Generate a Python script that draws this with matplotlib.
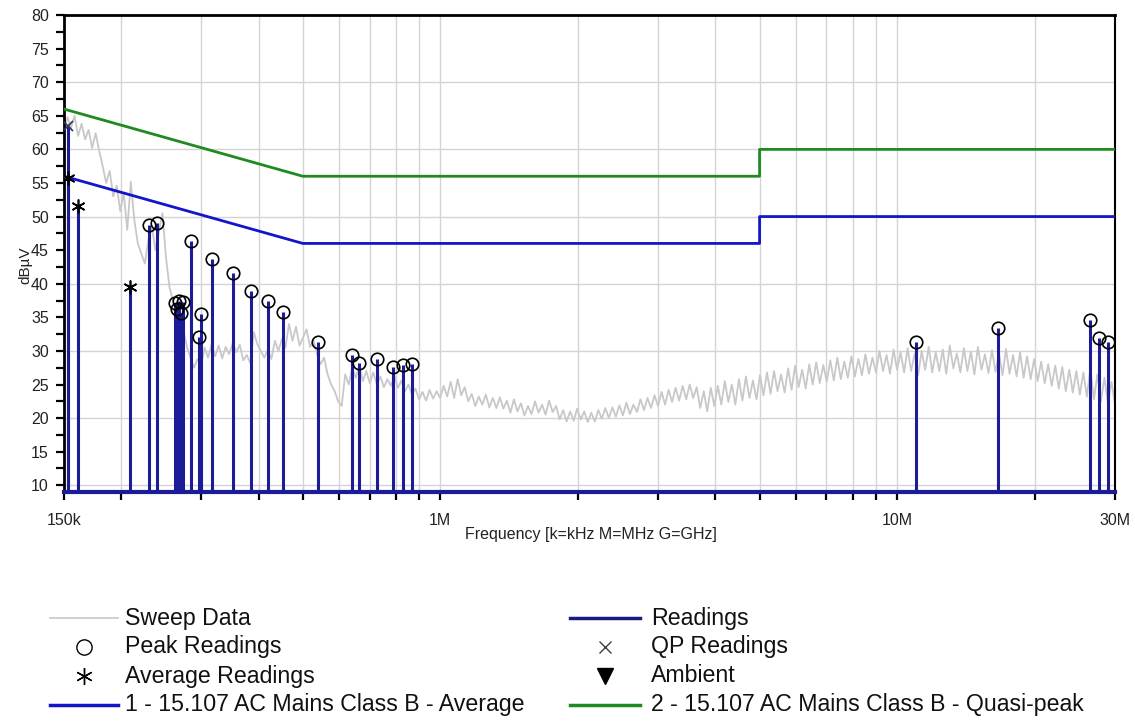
import numpy as np
import matplotlib.pyplot as plt
from matplotlib.lines import Line2D
from matplotlib.ticker import FixedLocator, NullFormatter

plt.rcParams['font.family'] = ['Liberation Sans', 'DejaVu Sans']

# sweep trace (dBuV) left to right, 150 kHz .. 30 MHz
sweep_dbuv = [
    62.5, 64.8, 63.2, 65.0, 62.0, 63.8, 61.5, 62.9, 60.2, 62.4, 59.8,
    57.5, 55.0, 56.8, 53.0, 54.6, 50.8, 53.5, 48.0, 55.2, 49.5, 46.0, 44.5, 43.0,
    46.5, 48.5, 45.0, 47.8, 50.5, 44.0, 39.5, 37.5, 36.0, 34.5, 33.0, 30.5, 29.0, 27.5, 28.8, 27.8,
    30.5, 29.0, 31.0, 29.2, 30.8, 28.9, 30.6, 29.5, 31.2, 29.8, 30.9, 28.6, 29.4, 28.2, 32.8, 31.0, 30.0, 29.0, 30.2, 28.8,
    31.5, 30.0, 31.8, 30.5, 34.0, 31.5, 33.6, 30.8, 32.0, 33.2, 30.6, 31.5, 29.5, 28.0, 29.0, 26.5, 25.0, 24.0, 22.5, 21.8,
    26.5, 25.0, 27.5, 26.0, 27.8, 25.5, 27.0, 25.2, 26.8, 25.0, 26.2, 24.6, 25.8, 24.8, 26.3, 24.5, 25.6, 24.0, 25.0, 23.5,
    24.4, 22.8, 23.9, 22.6, 24.2, 22.9, 24.0, 23.0, 24.8, 23.2, 25.4, 23.0, 25.8, 23.4, 24.6, 22.5, 23.6, 21.8, 23.2, 22.0,
    23.5, 21.6, 23.0, 21.5, 23.1, 21.4, 22.6, 20.8, 22.8, 21.0, 22.2, 20.4, 21.8, 20.6, 22.5, 20.8, 22.0, 20.5, 22.6, 20.9,
    21.8, 19.8, 21.2, 19.5, 21.0, 19.6, 21.4, 19.8, 21.0, 19.4, 20.8, 19.5, 21.2, 19.9, 21.5, 20.0, 21.6, 20.2, 21.9, 20.4,
    22.3, 20.6, 22.0, 20.9, 22.8, 21.2, 23.0, 21.5, 23.4, 21.8, 23.9, 22.0, 24.2, 22.4, 24.5, 22.6, 24.8, 22.8, 25.0, 23.0,
    24.6, 21.5, 24.0, 21.0, 24.5, 21.8, 24.8, 22.0, 25.5, 22.4, 25.0, 22.0, 25.8, 22.6, 26.2, 23.0, 25.6, 22.8, 26.4, 23.4,
    26.8, 23.6, 27.0, 24.0, 26.5, 23.8, 27.4, 24.2, 27.8, 24.6, 27.2, 24.4, 28.0, 25.0, 28.3, 25.2, 27.9, 25.4, 28.6, 25.6,
    29.0, 25.8, 28.4, 26.0, 29.2, 26.2, 28.8, 26.4, 29.5, 26.6, 29.0, 26.8, 30.0, 27.0, 29.4, 26.6, 30.2, 27.2, 29.8, 26.8,
    30.4, 27.0, 29.6, 26.4, 30.0, 27.2, 30.6, 26.8, 29.8, 27.0, 30.2, 26.6, 30.8, 27.4, 29.6, 26.8, 30.4, 27.0, 29.9, 26.5,
    30.6, 27.2, 29.5, 26.7, 30.1, 26.9, 29.7, 26.4, 30.3, 26.6, 29.4, 26.2, 29.8, 26.0, 29.2, 25.8, 28.8, 25.5, 28.4, 25.2,
    28.0, 24.8, 27.8, 24.4, 27.6, 24.0, 27.2, 23.8, 27.0, 23.5, 26.8, 23.2, 27.4, 22.8, 26.5, 22.5, 26.0, 22.2, 25.4, 22.0,
]
sweep_freq = np.geomspace(150e3, 30e6, len(sweep_dbuv))

# limit lines
limit_freq = [150e3, 500e3, 5e6, 5e6, 30e6]
avg_limit_dbuv = [56, 46, 46, 50, 50]
qp_limit_dbuv = [66, 56, 56, 60, 60]

# readings
peak_freq_khz = [230, 240, 262.5, 265.2, 267.9, 270.6, 273.3, 284, 296, 298.5, 316, 352, 386, 419, 453,
                 540, 640, 663, 725, 788, 828, 865, 11000, 16600, 26400, 27700, 28900]
peak_dbuv = [48.7, 49.0, 37.1, 36.2, 37.4, 35.6, 37.3, 46.4, 32.0, 35.5, 43.7, 41.6, 38.9, 37.4, 35.8,
             31.4, 29.4, 28.2, 28.8, 27.6, 27.9, 28.1, 31.3, 33.4, 34.6, 31.9, 31.3]
qp_freq_khz = [153]
qp_dbuv = [63.5]
avg_freq_khz = [153, 160.7, 209]
avg_dbuv = [55.7, 51.6, 39.5]

y_bottom = 9
navy = '#1c1c98'
txt = '#222222'

fig = plt.figure(figsize=(11.35, 7.21), dpi=100)
ax = fig.add_axes([64 / 1135, 1 - 492 / 721, 1051 / 1135, 477 / 721])

ax.set_xscale('log')
ax.set_xlim(150e3, 30e6)
ax.set_ylim(y_bottom, 80)

ax.plot(sweep_freq, sweep_dbuv, color='#c8c8c8', lw=1.3, zorder=2)
ax.plot(limit_freq, qp_limit_dbuv, color='#1f8a1f', lw=2, zorder=3)
ax.plot(limit_freq, avg_limit_dbuv, color='#1414c8', lw=2, zorder=3)

peak_f = np.array(peak_freq_khz) * 1e3
qp_f = np.array(qp_freq_khz) * 1e3
avg_f = np.array(avg_freq_khz) * 1e3
ax.vlines(peak_f, y_bottom, peak_dbuv, color=navy, lw=2.2, zorder=4)
ax.vlines(qp_f, y_bottom, qp_dbuv, color=navy, lw=2.2, zorder=4)
ax.vlines(avg_f, y_bottom, avg_dbuv, color=navy, lw=2.2, zorder=4)
ax.plot(peak_f, peak_dbuv, 'o', ms=9, mfc='none', mec='black', mew=1.2, zorder=5)
ax.plot(qp_f, qp_dbuv, 'x', ms=7, color='#303060', mew=1.2, zorder=5)
ax.plot(avg_f, avg_dbuv, marker=(6, 2, 0), ls='none', ms=10, color='black', mew=1.2, zorder=5)

# axes styling
major_x = [150e3, 1e6, 10e6, 30e6]
minor_x = [2e5, 3e5, 4e5, 5e5, 6e5, 7e5, 8e5, 9e5,
           2e6, 3e6, 4e6, 5e6, 6e6, 7e6, 8e6, 9e6, 2e7]
ax.xaxis.set_major_locator(FixedLocator(major_x))
ax.xaxis.set_minor_locator(FixedLocator(minor_x))
ax.set_xticklabels(['150k', '1M', '10M', '30M'])
ax.xaxis.set_minor_formatter(NullFormatter())
for f in minor_x + [1e6, 10e6]:
    ax.axvline(f, color='#d4d4d4', lw=1, zorder=1)
for y in range(10, 80, 10):
    ax.axhline(y, color='#d4d4d4', lw=1, zorder=1)

ax.set_yticks(np.arange(10, 81, 5))
ax.set_yticks(np.arange(12.5, 80, 5), minor=True)
ax.tick_params(axis='both', which='both', direction='out', length=6, width=1.6, color='black',
               labelsize=11.5, labelcolor=txt)
ax.tick_params(axis='x', pad=9)
ax.tick_params(axis='y', pad=5)

ax.spines['top'].set_linewidth(2)
ax.spines['left'].set_linewidth(2)
ax.spines['right'].set_linewidth(1.5)
ax.spines['bottom'].set_color(navy)
ax.spines['bottom'].set_linewidth(3)

fig.text(25 / 1135, 1 - 265 / 721, 'dBµV', rotation=90, ha='center', va='center', fontsize=11, color=txt)
fig.text(591 / 1135, 1 - 535 / 721, 'Frequency [k=kHz M=MHz G=GHz]', ha='center', va='center',
         fontsize=11.5, color=txt)

# legend drawn by hand below the plot
rows = [1 - 618 / 721, 1 - 647 / 721, 1 - 676 / 721, 1 - 705 / 721]
left_h = (50 / 1135, 118 / 1135, 125 / 1135)
right_h = (570 / 1135, 640 / 1135, 651 / 1135)
entries = [
    (left_h, rows[0], 'Sweep Data', dict(color='#c8c8c8', lw=1.2), None),
    (left_h, rows[1], 'Peak Readings', None, dict(marker='o', ms=11, mfc='none', mec='black', mew=1)),
    (left_h, rows[2], 'Average Readings', None, dict(marker=(6, 2, 0), ms=12, color='black', mew=1)),
    (left_h, rows[3], '1 - 15.107 AC Mains Class B - Average', dict(color='#1414c8', lw=2.5), None),
    (right_h, rows[0], 'Readings', dict(color='#1a1a80', lw=2.5), None),
    (right_h, rows[1], 'QP Readings', None, dict(marker='x', ms=9, color='#404040', mew=1)),
    (right_h, rows[2], 'Ambient', None, dict(marker='v', ms=11, color='black')),
    (right_h, rows[3], '2 - 15.107 AC Mains Class B - Quasi-peak', dict(color='#1f8a1f', lw=2.5), None),
]
for (x0, x1, xt), y, label, line_kw, marker_kw in entries:
    if line_kw:
        fig.add_artist(Line2D([x0, x1], [y, y], transform=fig.transFigure, **line_kw))
    if marker_kw:
        fig.add_artist(Line2D([(x0 + x1) / 2], [y], transform=fig.transFigure, ls='none', **marker_kw))
    fig.text(xt, y, label, ha='left', va='center', fontsize=16.7, color='#111111')

fig.savefig('out.png', dpi=100)
